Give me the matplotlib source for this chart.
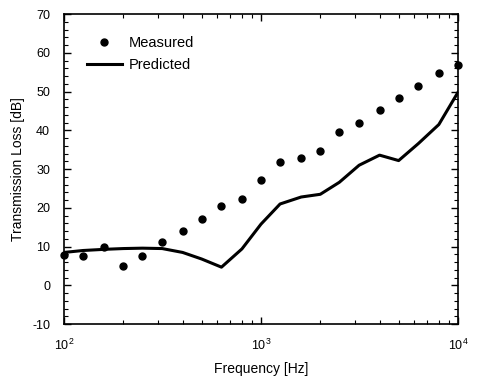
import matplotlib
matplotlib.use("Agg")
import matplotlib.pyplot as plt
from matplotlib.ticker import MultipleLocator, LogLocator

plt.rcParams['font.family'] = ['Liberation Sans', 'DejaVu Sans']
plt.rcParams['axes.unicode_minus'] = False

freq = [100, 125, 160, 200, 250, 315, 400, 500, 630, 800, 1000, 1250, 1600,
        2000, 2500, 3150, 4000, 5000, 6300, 8000, 10000]
measured = [7.8, 7.6, 9.8, 5.0, 7.6, 11.3, 14.0, 17.2, 20.4, 22.4, 27.3, 31.8,
            32.8, 34.7, 39.5, 41.9, 45.3, 48.3, 51.5, 54.8, 56.9]
predicted = [8.5, 9.0, 9.3, 9.5, 9.6, 9.5, 8.5, 6.8, 4.7, 9.4, 15.8, 21.0,
             22.8, 23.5, 26.6, 31.0, 33.6, 32.2, 36.6, 41.5, 49.8]

fig = plt.figure(figsize=(4.78, 3.8), dpi=100)
ax = fig.add_axes([0.134, 0.147, 0.824, 0.816])

ax.plot(freq, measured, 'o', color='black', markersize=5, label='Measured', clip_on=False)
ax.plot(freq, predicted, '-', color='black', linewidth=2.2, label='Predicted')

ax.set_xscale('log')
ax.set_xlim(100, 10000)
ax.set_ylim(-10, 70)
ax.yaxis.set_major_locator(MultipleLocator(10))
ax.yaxis.set_minor_locator(MultipleLocator(2))
ax.xaxis.set_major_locator(LogLocator(base=10))
ax.xaxis.set_minor_locator(LogLocator(base=10, subs=range(2, 10)))

ax.tick_params(which='both', direction='in', top=True, right=True, labelsize=9)
ax.tick_params(which='major', length=5, width=1, pad=10)
ax.tick_params(which='minor', length=3, width=0.8)
for s in ax.spines.values():
    s.set_linewidth(1.2)

ax.set_xlabel('Frequency [Hz]', fontsize=10, labelpad=6)
ax.set_ylabel('Transmission Loss [dB]', fontsize=10, labelpad=5)

ax.legend(loc='upper left', bbox_to_anchor=(0.058, 0.930), frameon=False,
          fontsize=10.5, handlelength=2.4, borderaxespad=0, borderpad=0,
          labelspacing=0.55, handletextpad=0.5)

fig.savefig('out.png', dpi=100)
